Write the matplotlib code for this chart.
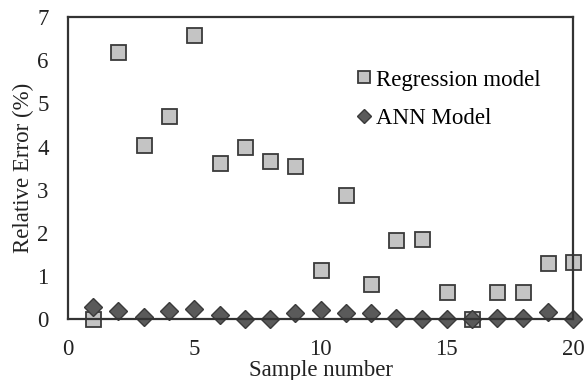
import matplotlib
matplotlib.use("Agg")
import matplotlib.pyplot as plt

samples = list(range(1, 21))
regression = [0.0, 6.19, 4.04, 4.70, 6.58, 3.62, 4.0, 3.66, 3.56, 1.14,
              2.87, 0.82, 1.84, 1.86, 0.62, 0.0, 0.64, 0.64, 1.30, 1.32]
ann = [0.28, 0.18, 0.05, 0.20, 0.23, 0.10, 0.0, 0.0, 0.15, 0.21,
       0.15, 0.14, 0.02, 0.0, 0.0, 0.0, 0.02, 0.02, 0.16, 0.0]
xticks = [0, 5, 10, 15, 20]
yticks = [0, 1, 2, 3, 4, 5, 6, 7]

plt.rcParams['font.family'] = ['Liberation Serif', 'DejaVu Serif']
FS = 16.5

fig = plt.figure(figsize=(5.86, 3.80), dpi=100)
ax = fig.add_axes([0.116, 0.160, 0.862, 0.795])

ax.plot(samples, regression, linestyle='none', marker='s', markersize=10.8,
        markerfacecolor='#c4c4c4', markeredgecolor='#3a3a3a', markeredgewidth=1.3,
        label='Regression model', zorder=3, clip_on=False)
ax.plot(samples, ann, linestyle='none', marker='D', markersize=9,
        markerfacecolor='#5a5a5a', markeredgecolor='#3a3a3a', markeredgewidth=1.0,
        label='ANN Model', zorder=4, clip_on=False)

ax.set_xlim(0, 20)
ax.set_ylim(0, 7)
ax.set_xticks(xticks)
ax.set_yticks(yticks)
ax.tick_params(length=0, labelsize=FS, colors='#222222')
ax.tick_params(axis='y', pad=14)
ax.tick_params(axis='x', pad=14)
for s in ax.spines.values():
    s.set_linewidth(1.6)
    s.set_color('#333333')
    s.set_zorder(5)

ax.set_xlabel('Sample number', fontsize=FS, color='#222222', labelpad=0)
ax.set_ylabel('Relative Error (%)', fontsize=FS, color='#222222', labelpad=2)

leg = ax.legend(loc='upper left', bbox_to_anchor=(0.555, 0.857), frameon=False,
                fontsize=FS, handlelength=0.6, handletextpad=0.2,
                labelspacing=0.75, borderaxespad=0, markerscale=0.75)

fig.savefig('out.png', dpi=100)
